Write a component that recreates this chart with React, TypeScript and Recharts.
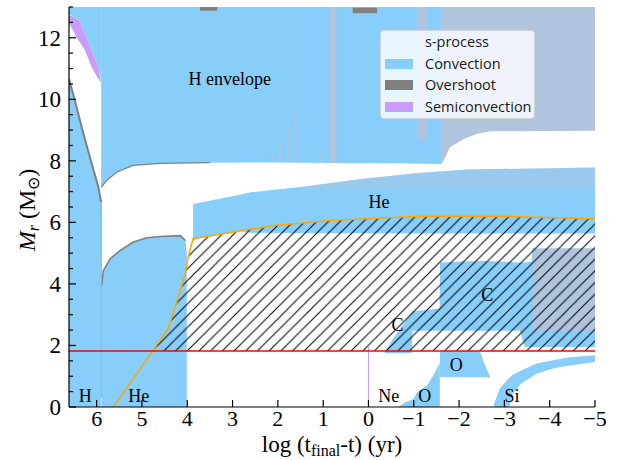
import React from 'react';
import { ComposedChart, Area, Line, Scatter, XAxis, YAxis, ReferenceLine } from 'recharts';

const BLUE = '#87CEFA';
const GREY = '#808080';
const PURPLE = '#C99BFA';
const STEEL = '#B0C4DE';
const SERIF = '"Liberation Serif", "Times New Roman", serif';
const SANS = '"Open Sans", "Noto Sans", sans-serif';

const X_TICKS = [6, 5, 4, 3, 2, 1, 0, -1, -2, -3, -4, -5];
const Y_TICKS = [0, 0.5, 1, 1.5, 2, 2.5, 3, 3.5, 4, 4.5, 5, 5.5, 6, 6.5, 7, 7.5, 8, 8.5, 9, 9.5, 10, 10.5, 11, 11.5, 12, 12.5, 13];
const Y_LABELED = [0, 2, 4, 6, 8, 10, 12];

// convective zones, [bottom, top] in Msun
const topLeft = [
  { x: 6.61, r: [12.75, 13] },
  { x: 6.59, r: [12.75, 13] },
  { x: 6.44, r: [12.62, 13] },
  { x: 6.37, r: [12.55, 13] },
  { x: 6.26, r: [12.12, 13] },
  { x: 6.11, r: [11.58, 13] },
  { x: 5.96, r: [11.04, 13] },
  { x: 5.9, r: [10.6, 13] },
];
const semiLeft = [
  { x: 6.61, r: [12.5, 12.75] },
  { x: 6.44, r: [12.0, 12.62] },
  { x: 6.37, r: [11.85, 12.55] },
  { x: 6.26, r: [11.6, 12.12] },
  { x: 6.11, r: [11.04, 11.58] },
  { x: 5.96, r: [10.66, 11.04] },
  { x: 5.91, r: [10.55, 10.6] },
];
const coreH = [
  { x: 6.61, r: [0, 10.66] },
  { x: 6.48, r: [0, 9.96] },
  { x: 6.33, r: [0, 9.09] },
  { x: 6.11, r: [0, 7.91] },
  { x: 5.96, r: [0, 7.14] },
  { x: 5.9, r: [0, 6.66] },
];
const coreHe = [
  { x: 5.89, r: [0, 3.95] },
  { x: 5.85, r: [0, 4.44] },
  { x: 5.7, r: [0, 4.82] },
  { x: 5.48, r: [0, 5.09] },
  { x: 5.19, r: [0, 5.36] },
  { x: 4.89, r: [0, 5.5] },
  { x: 4.6, r: [0, 5.54] },
  { x: 4.15, r: [0, 5.57] },
  { x: 4.04, r: [0, 5.41] },
  { x: 4.01, r: [0, 5.0] },
];
const envelope = [
  { x: 5.9, r: [7.14, 13] },
  { x: 5.78, r: [7.36, 13] },
  { x: 5.56, r: [7.63, 13] },
  { x: 5.2, r: [7.85, 13] },
  { x: 4.6, r: [7.92, 13] },
  { x: 3.5, r: [7.94, 13] },
  { x: 2.0, r: [7.95, 13] },
  { x: 0.85, r: [7.93, 13] },
  { x: -0.5, r: [7.92, 13] },
  { x: -1.62, r: [7.9, 13] },
];
const steelTop = [
  { x: -1.62, r: [7.9, 13] },
  { x: -1.8, r: [8.44, 13] },
  { x: -2.1, r: [8.71, 13] },
  { x: -2.4, r: [8.88, 13] },
  { x: -2.7, r: [8.96, 13] },
  { x: -5, r: [8.98, 13] },
];
const steelStreaks = [
  { x0: 0.86, x1: 0.71, lo: 7.93, hi: 13 },
  { x0: -1.07, x1: -1.31, lo: 8.66, hi: 13 },
  { x0: 2.15, x1: 2.11, lo: 7.95, hi: 8.17 },
  { x0: 1.97, x1: 1.93, lo: 7.95, hi: 8.56 },
  { x0: 1.8, x1: 1.76, lo: 7.95, hi: 9.08 },
  { x0: 1.62, x1: 1.58, lo: 7.95, hi: 9.57 },
  { x0: 1.09, x1: 1.05, lo: 7.93, hi: 8.33 },
  { x0: -3.63, x1: -5, lo: 2.48, hi: 5.15 },
];
// mixed convection / overshoot in the upper He shell
const bandMix = [
  { x: 1.5, r: [7.1, 7.15] },
  { x: 0.2, r: [7.05, 7.4] },
  { x: -1.03, r: [7.05, 7.6] },
  { x: -2.2, r: [7.1, 7.72] },
  { x: -5, r: [7.1, 7.78] },
];
const greyTop = [
  { x0: 0.35, x1: -0.19, lo: 12.8, hi: 12.98 },
  { x0: 3.72, x1: 3.34, lo: 12.88, hi: 13 },
];
const heBand = [
  { x: 3.87, r: [5.47, 6.6] },
  { x: 2.84, r: [5.72, 6.9] },
  { x: 2.6, r: [5.66, 6.98] },
  { x: 1.5, r: [5.65, 7.15] },
  { x: 0.2, r: [5.65, 7.4] },
  { x: -1.03, r: [5.64, 7.6] },
  { x: -2.2, r: [5.64, 7.72] },
  { x: -5, r: [5.64, 7.78] },
];
const carbon = [
  { x: -0.36, r: [1.75, 1.78] },
  { x: -0.4, r: [1.75, 1.9] },
  { x: -0.58, r: [1.75, 2.3] },
  { x: -0.8, r: [1.75, 2.75] },
  { x: -0.955, r: [1.75, 3.05] },
  { x: -0.97, r: [2.48, 3.1] },
  { x: -1.57, r: [2.48, 3.2] },
  { x: -1.58, r: [2.48, 4.7] },
  { x: -2.5, r: [2.48, 4.75] },
  { x: -3.34, r: [2.48, 4.7] },
  { x: -3.45, r: [1.95, 4.7] },
  { x: -3.6, r: [1.95, 4.72] },
  { x: -3.62, r: [1.95, 5.15] },
  { x: -5, r: [1.95, 5.15] },
];
const oxygenLow = [
  { x: -0.65, r: [0, 0] },
  { x: -0.8, r: [0, 0.15] },
  { x: -0.98, r: [0, 0.25] },
  { x: -1.09, r: [0, 0.5] },
  { x: -1.29, r: [0, 0.7] },
  { x: -1.46, r: [0, 1.1] },
  { x: -1.575, r: [0, 1.45] },
];
const oxygenUp = [
  { x: -1.58, r: [0.97, 1.8] },
  { x: -2.455, r: [0.97, 1.83] },
  { x: -2.55, r: [0.97, 1.45] },
  { x: -2.68, r: [0.95, 1.0] },
];
const silicon = [
  { x: -2.77, r: [0, 0.1] },
  { x: -2.9, r: [0, 0.6] },
  { x: -3.05, r: [0, 0.86] },
  { x: -3.11, r: [0, 0.95] },
  { x: -3.18, r: [0.43, 1.05] },
  { x: -3.37, r: [0.76, 1.19] },
  { x: -3.71, r: [1.08, 1.41] },
  { x: -4.07, r: [1.25, 1.52] },
  { x: -4.44, r: [1.35, 1.62] },
  { x: -5, r: [1.46, 1.68] },
];
const hatch = [
  { x: 4.76, r: [1.82, 1.82] },
  { x: 4.42, r: [1.82, 2.55] },
  { x: 4.2, r: [1.82, 3.57] },
  { x: 4.05, r: [1.82, 4.28] },
  { x: 3.98, r: [1.82, 4.87] },
  { x: 3.87, r: [1.82, 5.47] },
  { x: 2.84, r: [1.82, 5.72] },
  { x: 2.1, r: [1.82, 5.9] },
  { x: 0.85, r: [1.82, 6.06] },
  { x: -1.13, r: [1.82, 6.2] },
  { x: -2.96, r: [1.82, 6.2] },
  { x: -5, r: [1.82, 6.12] },
];

// boundary lines
const heCoreMass = [
  { x: 5.63, y: 0 },
  { x: 5.27, y: 0.76 },
  { x: 4.75, y: 1.84 },
  { x: 4.42, y: 2.55 },
  { x: 4.2, y: 3.57 },
  { x: 4.05, y: 4.28 },
  { x: 3.98, y: 4.87 },
  { x: 3.87, y: 5.47 },
  { x: 2.84, y: 5.72 },
  { x: 2.1, y: 5.9 },
  { x: 0.85, y: 6.06 },
  { x: -1.13, y: 6.2 },
  { x: -2.96, y: 6.2 },
  { x: -5, y: 6.12 },
];
const edgeH = [
  { x: 6.61, y: 10.66 },
  { x: 6.48, y: 9.96 },
  { x: 6.33, y: 9.09 },
  { x: 6.11, y: 7.91 },
  { x: 5.96, y: 7.14 },
  { x: 5.9, y: 6.66 },
];
const edgeHe = [
  { x: 5.89, y: 3.95 },
  { x: 5.85, y: 4.44 },
  { x: 5.7, y: 4.82 },
  { x: 5.48, y: 5.09 },
  { x: 5.19, y: 5.36 },
  { x: 4.89, y: 5.5 },
  { x: 4.6, y: 5.54 },
  { x: 4.15, y: 5.57 },
  { x: 4.04, y: 5.41 },
];
const edgeEnv = [
  { x: 5.9, y: 7.14 },
  { x: 5.78, y: 7.36 },
  { x: 5.56, y: 7.63 },
  { x: 5.2, y: 7.85 },
  { x: 4.6, y: 7.92 },
  { x: 3.5, y: 7.94 },
];
const splitLine = [
  { x: 5.895, y: 0.3 },
  { x: 5.895, y: 6.66 },
];
const semiLine = [
  { x: 0, y: 0 },
  { x: 0, y: 1.95 },
];
const RED_LINE = 1.82;

const zoneLabels = [
  { x: 3.06, y: 10.67, text: 'H envelope' },
  { x: 6.25, y: 0.36, text: 'H' },
  { x: 5.07, y: 0.36, text: 'He' },
  { x: -0.23, y: 6.66, text: 'He' },
  { x: -2.62, y: 3.66, text: 'C' },
  { x: -0.64, y: 2.68, text: 'C' },
  { x: -1.94, y: 1.39, text: 'O' },
  { x: -0.45, y: 0.37, text: 'Ne' },
  { x: -1.24, y: 0.36, text: 'O' },
  { x: -3.17, y: 0.37, text: 'Si' },
];

const legendItems = [
  { name: 's-process', color: '' },
  { name: 'Convection', color: BLUE },
  { name: 'Overshoot', color: GREY },
  { name: 'Semiconvection', color: PURPLE },
];

const fmt = (v: number) => (v < 0 ? `\u2212${-v}` : `${v}`);

const BottomTick = ({ x, y, payload }: any) => (
  <g>
    <line x1={x} x2={x} y1={y} y2={y - 7} stroke="#000" strokeWidth={1.2} />
    <text x={x} y={y + 18.5} textAnchor="middle" fontFamily={SERIF} fontSize={22} fill="#000">
      {fmt(payload.value)}
    </text>
  </g>
);

const TopTick = ({ x, y }: any) => (
  <line x1={x} x2={x} y1={y} y2={y + 7} stroke="#000" strokeWidth={1.2} />
);

const LeftTick = ({ x, y, payload }: any) => {
  const major = Y_LABELED.includes(payload.value);
  return (
    <g>
      <line x1={x} x2={x + (major ? 7 : 4)} y1={y} y2={y} stroke="#000" strokeWidth={1.2} />
      {major && (
        <text x={x - 8} y={y + 8} textAnchor="end" fontFamily={SERIF} fontSize={23} fill="#000">
          {payload.value}
        </text>
      )}
    </g>
  );
};

const RightTick = ({ x, y, payload }: any) => {
  const major = Y_LABELED.includes(payload.value);
  return <line x1={x} x2={x - (major ? 7 : 4)} y1={y} y2={y} stroke="#000" strokeWidth={1.2} />;
};

const ZoneText = ({ cx, cy, payload }: any) => (
  <text x={cx} y={cy} dy="0.35em" textAnchor="middle" fontFamily={SERIF} fontSize={18} fill="#000">
    {payload.text}
  </text>
);

const XTitle = () => (
  <text x={332} y={451.5} textAnchor="middle" fontFamily={SERIF} fontSize={23} fill="#000">
    log (t<tspan fontSize={16} dy={4}>final</tspan>
    <tspan dy={-4}>-t) (yr)</tspan>
  </text>
);

const YTitle = () => (
  <text x={35} y={210} transform="rotate(-90, 35, 210)" textAnchor="middle" fontFamily={SERIF} fontSize={24} fill="#000">
    <tspan fontStyle="italic">M</tspan>
    <tspan fontStyle="italic" fontSize={16} dy={4}>r</tspan>
    <tspan dy={-4}> (M</tspan>
    <tspan fontSize={16} dy={4}>{'\u2299'}</tspan>
    <tspan dy={-4}>)</tspan>
  </text>
);

const axisLine = { stroke: '#000', strokeWidth: 1.2 };

export default function App() {
  return (
    <div style={{ position: 'absolute', left: 0, top: 0, width: 618, height: 460, background: '#fff' }}>
      <ComposedChart width={618} height={460} margin={{ top: 7, right: 23, bottom: 23, left: 29 }}>
        <defs>
          <pattern id="hatch" patternUnits="userSpaceOnUse" width={11.7} height={11.7}>
            <path d="M-2,2 L2,-2 M0,11.7 L11.7,0 M9.7,13.7 L13.7,9.7" stroke="#000" strokeWidth={1} />
          </pattern>
        </defs>
        <XAxis
          type="number"
          dataKey="x"
          domain={[-5, 6.61]}
          reversed
          allowDataOverflow
          ticks={X_TICKS}
          interval={0}
          height={30}
          tickSize={0}
          tickMargin={0}
          tick={<BottomTick />}
          axisLine={axisLine}
          label={{ content: () => <XTitle /> }}
        />
        <XAxis
          xAxisId="top"
          orientation="top"
          type="number"
          dataKey="x"
          domain={[-5, 6.61]}
          reversed
          allowDataOverflow
          ticks={X_TICKS}
          interval={0}
          height={0}
          tickSize={0}
          tickMargin={0}
          tick={<TopTick />}
          axisLine={axisLine}
        />
        <YAxis
          type="number"
          domain={[0, 13]}
          allowDataOverflow
          ticks={Y_TICKS}
          interval={0}
          width={40}
          tickSize={0}
          tickMargin={0}
          tick={<LeftTick />}
          axisLine={axisLine}
          label={{ content: () => <YTitle /> }}
        />
        <YAxis
          yAxisId="right"
          orientation="right"
          type="number"
          domain={[0, 13]}
          allowDataOverflow
          ticks={Y_TICKS}
          interval={0}
          width={0}
          tickSize={0}
          tickMargin={0}
          tick={<RightTick />}
          axisLine={axisLine}
        />

        <Area data={topLeft} dataKey="r" type="linear" fill={BLUE} fillOpacity={1} stroke="none" isAnimationActive={false} />
        <Area data={semiLeft} dataKey="r" type="linear" fill={PURPLE} fillOpacity={1} stroke="none" isAnimationActive={false} />
        <Area data={coreH} dataKey="r" type="linear" fill={BLUE} fillOpacity={1} stroke="none" isAnimationActive={false} />
        <Area data={coreHe} dataKey="r" type="linear" fill={BLUE} fillOpacity={1} stroke="none" isAnimationActive={false} />
        <Area data={envelope} dataKey="r" type="linear" fill={BLUE} fillOpacity={1} stroke="none" isAnimationActive={false} />
        <Area data={steelTop} dataKey="r" type="linear" fill={STEEL} fillOpacity={1} stroke="none" isAnimationActive={false} />
        <Area data={heBand} dataKey="r" type="linear" fill={BLUE} fillOpacity={1} stroke="none" isAnimationActive={false} />
        <Area data={bandMix} dataKey="r" type="linear" fill={STEEL} fillOpacity={0.45} stroke="none" isAnimationActive={false} />
        <Area data={carbon} dataKey="r" type="linear" fill={BLUE} fillOpacity={1} stroke="none" isAnimationActive={false} />
        <Area data={oxygenLow} dataKey="r" type="linear" fill={BLUE} fillOpacity={1} stroke="none" isAnimationActive={false} />
        <Area data={oxygenUp} dataKey="r" type="linear" fill={BLUE} fillOpacity={1} stroke="none" isAnimationActive={false} />
        <Area data={silicon} dataKey="r" type="linear" fill={BLUE} fillOpacity={1} stroke="none" isAnimationActive={false} />
        {steelStreaks.map((s, i) => (
          <Area
            key={`steel-${i}`}
            data={[{ x: s.x0, r: [s.lo, s.hi] }, { x: s.x1, r: [s.lo, s.hi] }]}
            dataKey="r"
            type="linear"
            fill={STEEL}
            fillOpacity={1}
            stroke="none"
            isAnimationActive={false}
          />
        ))}
        {greyTop.map((s, i) => (
          <Area
            key={`grey-${i}`}
            data={[{ x: s.x0, r: [s.lo, s.hi] }, { x: s.x1, r: [s.lo, s.hi] }]}
            dataKey="r"
            type="linear"
            fill={GREY}
            fillOpacity={1}
            stroke="none"
            isAnimationActive={false}
          />
        ))}
        <Area data={hatch} dataKey="r" type="linear" fill="url(#hatch)" fillOpacity={1} stroke="none" isAnimationActive={false} />

        <Line data={edgeH} dataKey="y" type="linear" stroke={GREY} strokeWidth={2} dot={false} isAnimationActive={false} />
        <Line data={edgeHe} dataKey="y" type="linear" stroke={GREY} strokeWidth={1.6} dot={false} isAnimationActive={false} />
        <Line data={edgeEnv} dataKey="y" type="linear" stroke={GREY} strokeWidth={1.2} dot={false} isAnimationActive={false} />
        <Line data={splitLine} dataKey="y" type="linear" stroke="#A9A9A9" strokeWidth={1} dot={false} isAnimationActive={false} />
        <Line data={semiLine} dataKey="y" type="linear" stroke={PURPLE} strokeWidth={1} dot={false} isAnimationActive={false} />
        <Line data={heCoreMass} dataKey="y" type="linear" stroke="#FFA500" strokeWidth={1.5} dot={false} isAnimationActive={false} />
        <ReferenceLine y={RED_LINE} stroke="#FF0000" strokeWidth={1.5} />
        <Scatter data={zoneLabels} dataKey="y" shape={<ZoneText />} isAnimationActive={false} />
      </ComposedChart>

      <div
        style={{
          position: 'absolute',
          left: 380,
          top: 30,
          width: 155,
          height: 89,
          boxSizing: 'border-box',
          border: '1px solid #d3d3d3',
          borderRadius: 4,
          background: 'rgba(255,255,255,0.8)',
          fontFamily: SANS,
          fontSize: 14.5,
          color: '#1a1a1a',
        }}
      >
        {legendItems.map((item, i) => (
          <div key={item.name} style={{ position: 'absolute', left: 0, top: 1 + i * 21.5, height: 20, width: 155 }}>
            {item.color && (
              <div style={{ position: 'absolute', left: 4, top: 5, width: 28, height: 10, background: item.color }} />
            )}
            <div style={{ position: 'absolute', left: 44, top: 0, lineHeight: '20px', whiteSpace: 'nowrap' }}>{item.name}</div>
          </div>
        ))}
      </div>
    </div>
  );
}
